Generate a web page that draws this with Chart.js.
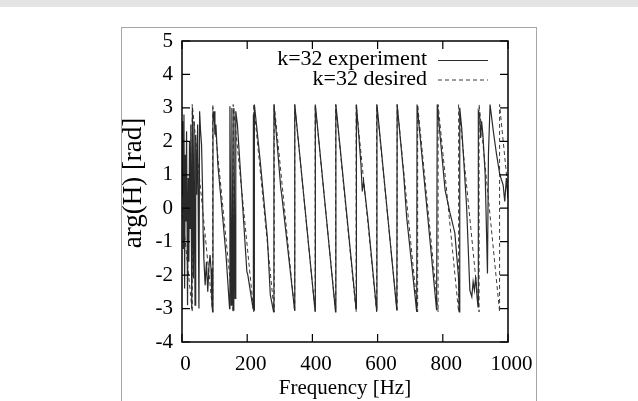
<!DOCTYPE html>
<html>
<head>
<meta charset="utf-8">
<script src="https://cdn.jsdelivr.net/npm/chart.js@4.4.1/dist/chart.umd.min.js"></script>
<style>
    html, body { margin: 0; padding: 0; background: #fff; }
    #wrap { position: relative; width: 638px; height: 401px; overflow: hidden; }
    #strip { position: absolute; left: 0; top: 0; width: 638px; height: 7px; background: #e4e4e4; }
    #panel { position: absolute; left: 121px; top: 27px; width: 414px; height: 400px; border: 1.5px solid #a6a6a6; }
    #chart { position: absolute; left: 0; top: 0; }
</style>
</head>
<body>
<div id="wrap">
    <div id="strip"></div>
    <div id="panel"></div>
    <canvas id="chart" width="638" height="401"></canvas>
</div>
<script>
// measured phase (solid)
const expFreq = [0,2,4,6,8,10,12,14,17,19,21,23,25,27,30,32,35,37,40,42,45,48,52,54,57,60,63,65,67,71,75,79,83,86,89,92,94,95,97,99,101,104,110,125,135,146,147,151,153,157,159,163,165,170,199,202,218,219,221,222,240,262,271,281,282,303,306,345.5,346,408,409,471,472,534,535,549,553,557,570,597,598,659,660,680,689,720,721,781,783,797,807,822,837,848,851,852,858,873,883,889,893,897,901,905,908,909,913,916,919,923,930,937,940,945,955,965,975,985,990,995,1000];
const expPhase = [0.4,2.6,-1.2,2.8,-2.4,1.6,-0.4,2.3,-2.9,0.9,-1.6,2.0,-0.6,2.5,-3.0,3.0,-2.1,2.6,-2.9,2.2,0.4,2.5,-3.0,2.9,2.3,1.9,0.6,-0.8,-1.5,-2.3,-1.6,-2.5,-1.7,-1.4,-1.8,-2.9,-3.1,2.9,2.6,2.9,2.2,2.5,1.3,-0.3,-1.4,-3.0,3.05,-2.9,3.0,-3.05,3.0,-2.7,2.9,2.5,-1.9,-2.0,-3.0,2.8,-3.05,3.1,1.4,-0.9,-2.6,-3.1,3.1,0.6,0.4,-3.05,3.1,-3.05,3.1,-3.1,3.1,-3.0,3.1,1.3,0.5,0.8,-0.3,-3.05,3.1,-3.05,3.1,1.0,-0.25,-3.1,3.1,-3.05,3.1,1.6,0.55,-0.14,-0.74,-2.05,-3.1,3.0,2.4,0.05,-2.45,-2.65,-2.2,-2.45,-2.05,-2.65,-2.95,2.9,2.8,2.1,2.6,2.2,1.0,-1.95,1.6,3.1,2.3,1.6,1.0,0.7,0.2,0.9,0.3];

// desired phase (dashed)
const desFreq = [0,31.4,31.4,94.3,94.3,157.1,157.1,220.0,220.0,282.8,282.8,345.7,345.7,408.5,408.5,471.4,471.4,534.2,534.2,597.1,597.1,659.9,659.9,722.8,722.8,785.6,785.6,848.5,848.5,911.3,911.3,974.2,974.2,1000];
const desPhase = [0,-3.1,3.1,-3.1,3.1,-3.1,3.1,-3.1,3.1,-3.1,3.1,-3.1,3.1,-3.1,3.1,-3.1,3.1,-3.1,3.1,-3.1,3.1,-3.1,3.1,-3.1,3.1,-3.1,3.1,-3.1,3.1,-3.1,3.1,-3.1,3.1,0.55];

const legendLabels = ["k=32 experiment", "k=32 desired"];
const xTicks = [0, 200, 400, 600, 800, 1000];
const yTicks = [-4, -3, -2, -1, 0, 1, 2, 3, 4, 5];
const yTitle = "arg(H) [rad]";

const serif = "'Liberation Serif', 'Times New Roman', serif";

function toPoints(xs, ys){
    return xs.map((x, i) => ({x: x, y: ys[i]}));
}

// frame box, inward ticks, legend and y title
const framePlugin = {
    id: 'frame',
    afterDraw(chart){
        const ctx = chart.ctx;
        const a = chart.chartArea;
        const xs = chart.scales.x, ys = chart.scales.y;
        ctx.save();
        ctx.strokeStyle = '#000';
        ctx.lineWidth = 1.5;
        ctx.strokeRect(a.left, a.top, a.right - a.left, a.bottom - a.top);
        ctx.lineWidth = 1.2;
        ctx.beginPath();
        xTicks.forEach(v => {
            const px = xs.getPixelForValue(v);
            ctx.moveTo(px, a.bottom); ctx.lineTo(px, a.bottom - 8);
            ctx.moveTo(px, a.top); ctx.lineTo(px, a.top + 8);
        });
        yTicks.forEach(v => {
            const py = ys.getPixelForValue(v);
            ctx.moveTo(a.left, py); ctx.lineTo(a.left + 8, py);
            ctx.moveTo(a.right, py); ctx.lineTo(a.right - 8, py);
        });
        ctx.stroke();

        // legend: text right aligned, line sample to the right
        ctx.font = "22px " + serif;
        ctx.fillStyle = '#000';
        ctx.textAlign = 'right';
        ctx.textBaseline = 'alphabetic';
        const rows = [65, 84.5];
        chart.data.datasets.forEach((ds, i) => {
            ctx.fillText(legendLabels[i], 427, rows[i]);
            ctx.beginPath();
            ctx.setLineDash(ds.borderDash || []);
            ctx.strokeStyle = ds.borderColor;
            ctx.lineWidth = ds.borderWidth;
            ctx.moveTo(438, rows[i] - 4.5);
            ctx.lineTo(488, rows[i] - 4.5);
            ctx.stroke();
        });
        ctx.setLineDash([]);

        // y title, sits a bit above the middle of the axis
        ctx.translate(134, 183);
        ctx.rotate(-Math.PI / 2);
        ctx.font = "27px " + serif;
        ctx.textAlign = 'center';
        ctx.textBaseline = 'middle';
        ctx.fillText(yTitle, 0, 0);
        ctx.restore();
    }
};

new Chart(document.getElementById("chart"), {
    type: 'line',
    data: {
        datasets: [{
            label: legendLabels[0],
            data: toPoints(expFreq, expPhase),
            borderColor: '#2a2a2a',
            borderWidth: 1.2,
            pointRadius: 0,
            tension: 0
        }, {
            label: legendLabels[1],
            data: toPoints(desFreq, desPhase),
            borderColor: '#3a3a3a',
            borderWidth: 1,
            borderDash: [4, 3],
            pointRadius: 0,
            tension: 0
        }]
    },
    options: {
        responsive: false,
        animation: false,
        layout: { padding: { left: 122, right: 130, top: 41, bottom: 0 } },
        plugins: { legend: { display: false }, tooltip: { enabled: false } },
        scales: {
            x: {
                type: 'linear',
                min: 0, max: 1000,
                afterFit: s => { s.height = 59; },
                afterBuildTicks: s => { s.ticks = xTicks.map(v => ({value: v})); },
                grid: { display: false, drawTicks: false, tickLength: 0 },
                border: { display: false },
                ticks: { color: '#000', font: { family: serif, size: 21 }, padding: 10, labelOffset: 3.5, maxRotation: 0, callback: v => String(v) },
                title: { display: true, text: 'Frequency [Hz]', color: '#000', font: { family: serif, size: 21 }, padding: { top: 0, bottom: 0 } }
            },
            y: {
                type: 'linear',
                min: -4, max: 5,
                afterFit: s => { s.width = 60; },
                afterBuildTicks: s => { s.ticks = yTicks.map(v => ({value: v})); },
                grid: { display: false, drawTicks: false, tickLength: 0 },
                border: { display: false },
                ticks: { color: '#000', font: { family: serif, size: 21 }, padding: 9, callback: v => String(v) }
            }
        }
    },
    plugins: [framePlugin]
});
</script>
</body>
</html>
